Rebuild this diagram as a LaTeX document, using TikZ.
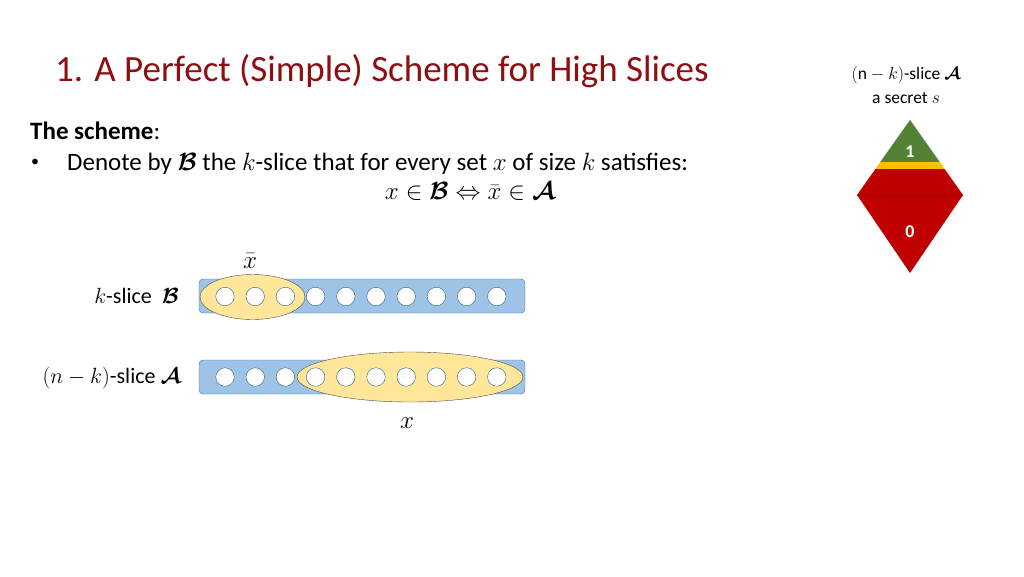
\RequirePackage{fix-cm}
\documentclass[tikz,border=0pt]{standalone}
\usepackage{amsmath}
\usepackage{fontspec}
\setmainfont{Carlito}
\definecolor{titulo}{HTML}{8E0E12}
\definecolor{azul}{HTML}{9DC3E6}
\definecolor{bordeazul}{HTML}{41719C}
\definecolor{crema}{HTML}{FFE699}
\definecolor{verde}{HTML}{548235}
\definecolor{amarillo}{HTML}{FFC000}
\definecolor{rojo}{HTML}{C00000}
\newcommand{\bA}{\boldsymbol{\mathcal{A}}}
\newcommand{\bB}{\boldsymbol{\mathcal{B}}}
\tikzset{
  barra/.style={draw=bordeazul, fill=azul, rounded corners=4pt, minimum width=326, minimum height=34, inner sep=0pt},
  conjunto/.style={ellipse, draw=black!70, fill=crema, inner sep=0pt},
  bolita/.style={circle, draw=bordeazul!80!black, fill=white, minimum size=18.5, inner sep=0pt},
  texto/.style={inner sep=0pt, font=\fontsize{25}{30}\selectfont},
  rotulo/.style={inner sep=0pt, font=\fontsize{22}{26}\selectfont}
}
\usetikzlibrary{shapes.geometric}
\begin{document}
\begin{tikzpicture}[x=1pt,y=-1pt]
    \useasboundingbox (0,0) rectangle (1024,576);

    % Titulo
    \node[anchor=base west, inner sep=0pt, text=titulo, font=\fontsize{37}{44}\selectfont] (titulo) at (55,81) {1. A Perfect (Simple) Scheme for High Slices};

    % Texto del esquema
    \node[texto, anchor=base west] (esquema) at (30,139.5) {\bfseries The scheme\mdseries:};
    \node[texto, anchor=center, font=\fontsize{16}{18}\selectfont] (vineta) at (35,163) {\textbullet};
    \node[texto, anchor=base west] (denota) at (67,170) {Denote by $\bB$ the $k$-slice that for every set $x$ of size $k$ satisfies:};
    \node[texto, anchor=base] (formula) at (470,199) {$x\in\bB\Leftrightarrow\bar{x}\in\bA$};

    % Rombo del secreto
    \node[inner sep=0pt, font=\fontsize{17.5}{20}\selectfont] (slicea) at (906,75) {$(\mathrm{n}-k)$-slice $\bA$};
    \node[inner sep=0pt, font=\fontsize{17.5}{20}\selectfont] (secreto) at (906,98) {a secret $s$};
    \fill[verde] (910,120) -- (939.7,162) -- (880.3,162) -- cycle;
    \draw[bordeazul!70, very thin] (880.3,162) -- (910,120) -- (939.7,162);
    \fill[amarillo] (880.3,162) -- (939.7,162) -- (944.6,169) -- (875.4,169) -- cycle;
    \fill[rojo] (875.4,169) -- (944.6,169) -- (963,195) -- (910,273) -- (857,195) -- cycle;
    \draw[rojo!85!black, very thin] (857,195) -- (963,195);
    \node[text=white, font=\bfseries\fontsize{18}{20}\selectfont] (uno) at (910,152) {1};
    \node[text=white, font=\bfseries\fontsize{18}{20}\selectfont] (cero) at (910,232) {0};

    % Barras de los slices
    \node[barra] (barraB) at (362,296) {};
    \node[barra] (barraA) at (362,377) {};
    \node[conjunto, minimum width=105, minimum height=45] (xbarra) at (252.5,297) {};
    \node[conjunto, minimum width=226, minimum height=50] (xconj) at (410,377) {};
    \foreach \i in {0,...,9} {
        \node[bolita] (b\i) at ({225+30.2*\i},296.5) {};
        \node[bolita] (a\i) at ({225+30.2*\i},377) {};
    }

    % Rotulos
    \node[rotulo, font=\fontsize{25}{30}\selectfont] (lxbarra) at (250,261) {$\bar{x}$};
    \node[rotulo, font=\fontsize{25}{30}\selectfont] (lx) at (407,423) {$x$};
    \node[rotulo, anchor=east] (lB) at (179,296) {$k$-slice\ \ $\bB$};
    \node[rotulo, anchor=east] (lA) at (181,378) {$(n-k)$-slice $\bA$};
\end{tikzpicture}
\end{document}
